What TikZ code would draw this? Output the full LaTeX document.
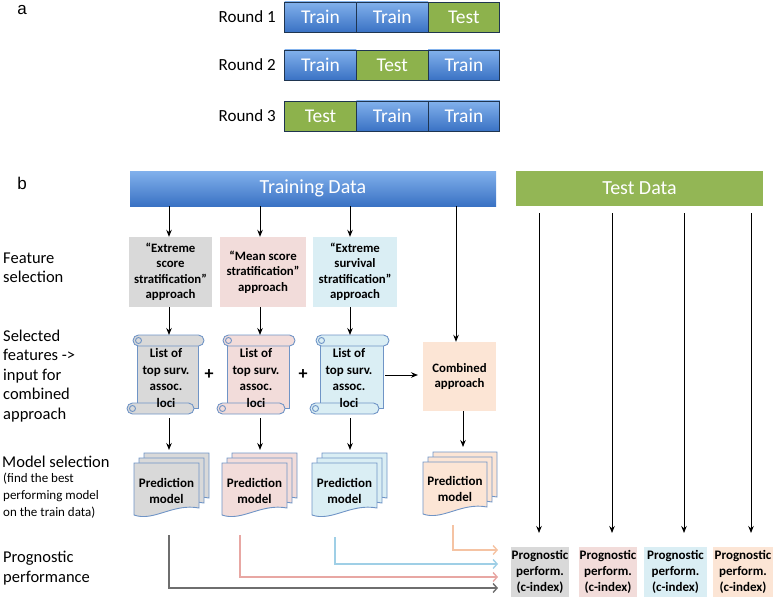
\documentclass[tikz,border=0pt]{standalone}
\usepackage{fontspec}
\setmainfont{Carlito}
\newfontfamily\arialf{Liberation Sans}
\usetikzlibrary{arrows.meta}
\definecolor{blueT}{HTML}{82B1EC}
\definecolor{blueB}{HTML}{3A72C4}
\definecolor{cellline}{HTML}{1F3550}
\definecolor{greenC}{HTML}{8DB24C}
\definecolor{greyF}{HTML}{D9D9D9}
\definecolor{pinkF}{HTML}{F2DCDA}
\definecolor{lblueF}{HTML}{DAEEF4}
\definecolor{peachF}{HTML}{FCE5D5}
\definecolor{scrollD}{HTML}{6F94C6}
\definecolor{greyL}{HTML}{6E6E6E}
\definecolor{pinkL}{HTML}{E8A7A3}
\definecolor{blueL}{HTML}{9FCFE6}
\definecolor{peachL}{HTML}{F5C3A3}
\newcommand\myscroll[5]{%
  \filldraw[fill=#5,draw=scrollD,line width=0.9pt] (#1+10,#2+6) rectangle (#3-6,#4-6);
  \filldraw[fill=#5,draw=scrollD,line width=0.9pt,rounded corners=5.5pt] (#1+6,#2) rectangle (#3,#2+11);
  \draw[draw=scrollD,line width=0.9pt] (#1+11.5,#2+5.5) circle (3);
  \filldraw[fill=#5,draw=scrollD,line width=0.9pt,rounded corners=5.5pt] (#1,#4-11) rectangle (#3-10,#4);
  \draw[draw=scrollD,line width=0.9pt] (#1+5.5,#4-5.5) circle (3);
}
\newcommand\mydoc[5]{%
  \filldraw[fill=#5,draw=scrollD,line width=0.9pt] (#1,#2) -- (#1+#3,#2) -- (#1+#3,#2+#4-7)
    .. controls (#1+0.6*#3,#2+#4-12) and (#1+0.3*#3,#2+#4+7) .. (#1,#2+#4) -- cycle;
}
\newcommand\mystack[5]{%
  \mydoc{#1+10}{#2-10}{#3}{#4}{#5}
  \mydoc{#1+5}{#2-5}{#3}{#4}{#5}
  \mydoc{#1}{#2}{#3}{#4}{#5}
}
\begin{document}
\begin{tikzpicture}[x=1pt,y=-1pt,
  cell/.style={draw=cellline, line width=0.8pt, minimum width=71.7pt, minimum height=30pt, inner sep=0, text=white, font=\fontsize{19.5}{22}\selectfont},
  traincell/.style={cell, top color=blueT, bottom color=blueB},
  testcell/.style={cell, fill=greenC},
  roundlab/.style={anchor=east, inner sep=0, font=\fontsize{17}{20}\selectfont},
  panel/.style={inner sep=0, font=\arialf\fontsize{17}{20}\selectfont},
  sidelab/.style={anchor=west, align=left, inner sep=0, font=\fontsize{16.5}{19.5}\selectfont},
  sidesmall/.style={anchor=west, align=left, inner sep=0, font=\fontsize{13}{17}\selectfont},
  bigbox/.style={inner sep=0, minimum height=35pt, text=white, font=\fontsize{20}{22}\selectfont},
  fbox/.style={inner sep=0, minimum height=70pt, align=center, font=\bfseries\fontsize{12.8}{15.5}\selectfont},
  txt/.style={inner sep=0, align=center, font=\bfseries\fontsize{13}{16.5}\selectfont},
  pbox/.style={inner sep=0, minimum height=50pt, align=center, font=\bfseries\fontsize{13}{16}\selectfont},
  arr/.style={line width=1pt, -{Stealth[length=7pt,width=5.5pt]}},
  carr/.style={line width=1.4pt, -{Straight Barb[length=4pt,width=9pt]}},
  plus/.style={inner sep=0, font=\fontsize{18}{20}\selectfont\bfseries}
]
\useasboundingbox (0,0) rectangle (778,599);

% ---------- panel a ----------
\node[panel] (la) at (22,10) {a};
\node[roundlab] (rl1) at (276,17) {Round 1};
\node[roundlab] (rl2) at (276,65) {Round 2};
\node[roundlab] (rl3) at (276,116) {Round 3};
\node[traincell] (a11) at (320.5,17) {Train};
\node[traincell] (a12) at (392.2,17) {Train};
\node[testcell]  (a13) at (463.9,17) {Test};
\node[traincell] (a21) at (320.5,65) {Train};
\node[testcell]  (a22) at (392.2,65) {Test};
\node[traincell] (a23) at (463.9,65) {Train};
\node[testcell]  (a31) at (320.5,116) {Test};
\node[traincell] (a32) at (392.2,116) {Train};
\node[traincell] (a33) at (463.9,116) {Train};

% ---------- panel b ----------
\node[panel] (lb) at (22,183) {b};
\node[bigbox, minimum width=366pt, top color=blueT, bottom color=blueB] (train) at (313,188.5) {Training Data};
\node[bigbox, minimum width=247pt, fill=greenC!95!white] (test) at (639.5,188.5) {Test Data};

\node[sidelab] (s1) at (3,268) {Feature\\selection};
\node[sidelab] (s2) at (3,376) {Selected\\features ->\\input for\\combined\\approach};
\node[sidelab] (s3) at (2,462) {Model selection};
\node[sidesmall] (s4) at (3,496) {(find the best\\performing model\\on the train data)};
\node[sidelab] (s5) at (3,568) {Prognostic\\performance};

\node[fbox, fill=greyF, minimum width=83pt] (f1) at (170.5,272) {``Extreme\\score\\stratification''\\approach};
\node[fbox, fill=pinkF, minimum width=86pt] (f2) at (263,272) {``Mean score\\stratification''\\approach};
\node[fbox, fill=lblueF, minimum width=84pt] (f3) at (355,272) {``Extreme\\survival\\stratification''\\approach};
\node[fbox, fill=peachF, minimum width=73pt, minimum height=69pt] (comb) at (459.5,376.5) {Combined\\approach};

% scrolls
\myscroll{127}{335}{204}{414}{greyF}
\myscroll{217}{335}{295}{414}{pinkF}
\myscroll{310}{335}{389}{414}{lblueF}
\node[txt] (l1) at (166,378) {List of\\top surv.\\assoc.\\loci};
\node[txt] (l2) at (256,378) {List of\\top surv.\\assoc.\\loci};
\node[txt] (l3) at (349,378) {List of\\top surv.\\assoc.\\loci};
\node[plus] (p1) at (209,375) {+};
\node[plus] (p2) at (303,375) {+};

% prediction model stacks
\mystack{134}{463}{65}{52}{greyF}
\mystack{222}{463}{65}{52}{pinkF}
\mystack{312}{463}{65}{52}{lblueF}
\mystack{423}{462}{64}{52}{peachF}
\node[txt] (m1) at (166.5,491) {Prediction\\model};
\node[txt] (m2) at (254.5,491) {Prediction\\model};
\node[txt] (m3) at (344.5,491) {Prediction\\model};
\node[txt] (m4) at (455,489) {Prediction\\model};

% prognostic boxes
\node[pbox, fill=greyF, minimum width=58pt] (pp1) at (540,572) {Prognostic\\perform.\\(c-index)};
\node[pbox, fill=pinkF, minimum width=58pt] (pp2) at (608,572) {Prognostic\\perform.\\(c-index)};
\node[pbox, fill=lblueF, minimum width=63pt] (pp3) at (675.5,572) {Prognostic\\perform.\\(c-index)};
\node[pbox, fill=peachF, minimum width=60pt] (pp4) at (743,572) {Prognostic\\perform.\\(c-index)};

% arrows training -> feature boxes
\draw[arr] (train.south -| 169,0) -- (f1.north -| 169,0);
\draw[arr] (train.south -| 260,0) -- (f2.north -| 260,0);
\draw[arr] (train.south -| 350,0) -- (f3.north -| 350,0);
\draw[arr] (train.south -| 456,0) -- (comb.north -| 456,0);

% feature -> scroll
\coordinate (sc1) at (169,335);
\coordinate (sc2) at (260,335);
\coordinate (sc3) at (350,335);
\draw[arr] (f1.south -| sc1) -- (sc1);
\draw[arr] (f2.south -| sc2) -- (sc2);
\draw[arr] (f3.south -| sc3) -- (sc3);

% scroll -> prediction
\coordinate (q1a) at (169,418); \coordinate (q1b) at (169,450);
\coordinate (q2a) at (260,418); \coordinate (q2b) at (260,450);
\coordinate (q3a) at (350,418); \coordinate (q3b) at (350,450);
\coordinate (q4b) at (463,447);
\draw[arr] (q1a) -- (q1b);
\draw[arr] (q2a) -- (q2b);
\draw[arr] (q3a) -- (q3b);
\draw[arr] (comb.south -| q4b) -- (q4b);

% scroll -> combined
\coordinate (cs) at (385,375);
\coordinate (ce) at (418,375);
\draw[arr] (cs) -- (ce);

% test data lines
\foreach \i/\x in {1/539,2/612,3/684,4/751}{
  \coordinate (t\i) at (\x,213);
  \coordinate (te\i) at (\x,533);
  \draw[arr] (t\i) -- (te\i);
}

% bottom coloured connectors
\coordinate (g0) at (169,535); \coordinate (g1) at (498,588);
\coordinate (k0) at (240,535); \coordinate (k1) at (498,577);
\coordinate (b0) at (335,537); \coordinate (b1) at (498,564);
\coordinate (o0) at (453,525); \coordinate (o1) at (498,550);
\draw[carr, greyL] (g0) |- (g1);
\draw[carr, pinkL] (k0) |- (k1);
\draw[carr, blueL] (b0) |- (b1);
\draw[carr, peachL] (o0) |- (o1);
\end{tikzpicture}
\end{document}
